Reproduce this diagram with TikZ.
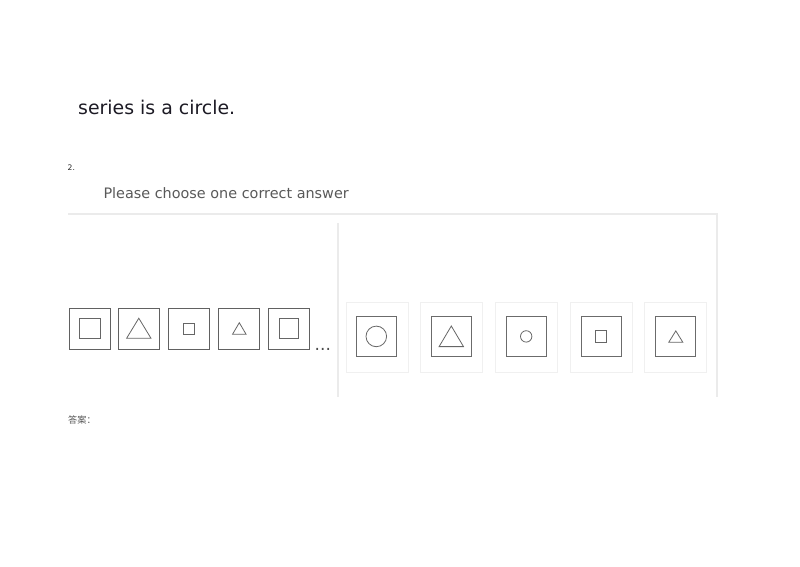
\documentclass[tikz,border=0pt]{standalone}
\usepackage{fontspec}
\setmainfont{DejaVu Sans}
\newfontfamily\cjk{Noto Sans CJK SC}
\definecolor{titletext}{HTML}{1C1A24}
\begin{document}
\begin{tikzpicture}[x=1pt,y=-1pt,
  seqbox/.style={draw=black!62,line width=0.9pt,minimum size=41pt,inner sep=0pt},
  optout/.style={draw=black!6,line width=0.9pt,minimum width=62pt,minimum height=70pt,inner sep=0pt},
  optin/.style={draw=black!58,line width=0.9pt,minimum size=40pt,inner sep=0pt},
  shp/.style={draw=black!60,line width=0.8pt},
  frame/.style={draw=black!8,line width=2.5pt}]
\useasboundingbox (0,0) rectangle (800,566);
% texts
\node[anchor=base west,inner sep=0pt,text=titletext,font=\fontsize{18.9}{22}\selectfont] (t1) at (78,114) {series is a circle.};
\node[anchor=base west,inner sep=0pt,text=black!85,font=\fontsize{7.6}{9}\selectfont] (t2) at (67.5,170.5) {2.};
\node[anchor=base west,inner sep=0pt,text=black!65,font=\fontsize{14.4}{17}\selectfont] (t3) at (103.3,198.3) {Please choose one correct answer};
\node[anchor=base west,inner sep=0pt,text=black!65,font=\cjk\fontsize{9.2}{11}\selectfont] (t4) at (68,423.5) {答案：};
% frame lines
\coordinate (fa) at (68,214);
\coordinate (fb) at (717,214);
\coordinate (fc) at (717,397);
\coordinate (fd) at (337.5,223);
\coordinate (fe) at (337.5,397);
\draw[frame] (fa) -- (fb) -- (fc);
\draw[frame,line width=2pt] (fd) -- (fe);
% sequence
\node[seqbox] (s1) at (90,328.5) {};
\node[seqbox] (s2) at (138.8,328.5) {};
\node[seqbox] (s3) at (189.3,328.5) {};
\node[seqbox] (s4) at (239.3,328.5) {};
\node[seqbox] (s5) at (288.8,328.5) {};
\node[shp,minimum size=20.6pt,inner sep=0pt] (s1i) at (s1) {};
\draw[shp,shift={(s2.center)}] (0,-10.3) -- (12.2,9.8) -- (-12.2,9.8) -- cycle;
\node[shp,minimum size=11pt,inner sep=0pt] (s3i) at (s3) {};
\draw[shp,shift={(s4.center)}] (0,-5.8) -- (6.8,5.8) -- (-6.8,5.8) -- cycle;
\node[shp,minimum size=19.5pt,inner sep=0pt] (s5i) at (s5) {};
\node[anchor=base west,inner sep=0pt,text=black!70,font=\fontsize{17}{19}\selectfont] (dots) at (314.5,350) {...};
% options
\node[optout] (o1) at (377,337) {};
\node[optout] (o2) at (451.3,337) {};
\node[optout] (o3) at (526.2,337) {};
\node[optout] (o4) at (601,337) {};
\node[optout] (o5) at (675.8,337) {};
\node[optin] (i1) at (376.3,336.4) {};
\node[optin] (i2) at (451.3,336.4) {};
\node[optin] (i3) at (526.2,336.4) {};
\node[optin] (i4) at (601,336.4) {};
\node[optin] (i5) at (675.8,336.4) {};
\node[shp,circle,minimum size=20.6pt,inner sep=0pt] (c1) at (i1) {};
\draw[shp,shift={(i2.center)}] (0,-10.4) -- (12.2,10.2) -- (-12.2,10.2) -- cycle;
\node[shp,circle,minimum size=11.4pt,inner sep=0pt] (c3) at (i3) {};
\node[shp,minimum size=11.4pt,inner sep=0pt] (q4) at (i4) {};
\draw[shp,shift={(i5.center)}] (0,-5.5) -- (7,5.8) -- (-7,5.8) -- cycle;
\end{tikzpicture}
\end{document}
